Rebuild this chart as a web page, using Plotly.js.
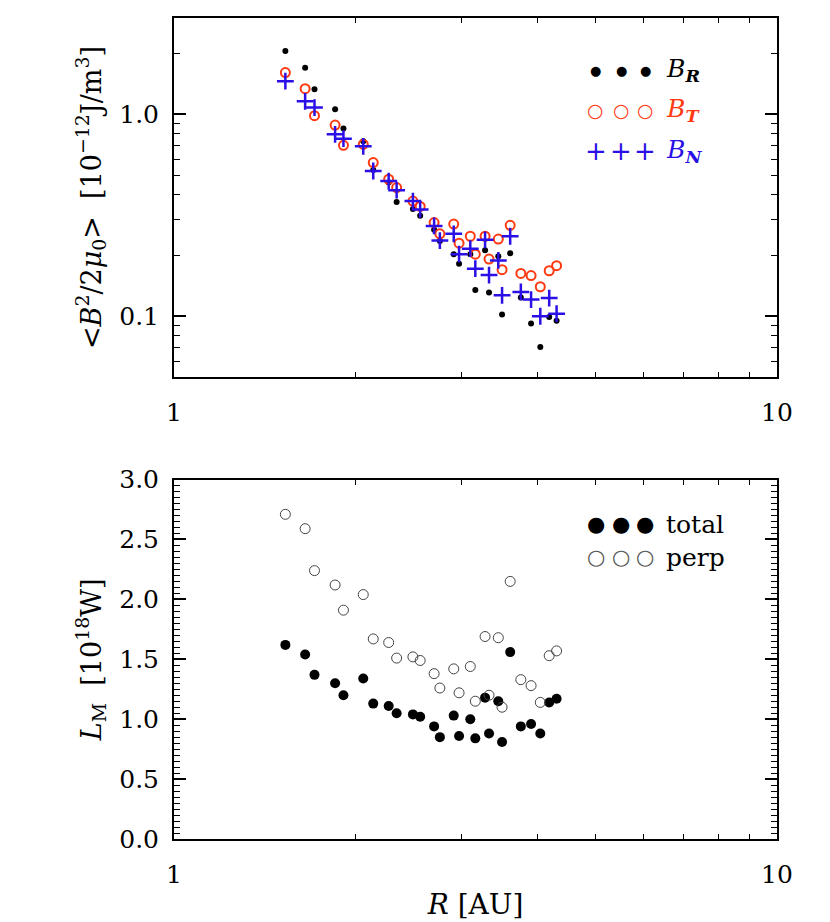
<!DOCTYPE html>
<html>
<head>
<meta charset="utf-8">
<script src="https://cdn.plot.ly/plotly-3.0.1.min.js"></script>
<style>
  body { margin: 0; background: #fff; }
  #plotArea { width: 830px; height: 922px; }
</style>
</head>
<body>
<div id="plotArea"></div>
<script>
// heliocentric distance [AU]
var R = [1.53, 1.65, 1.71, 1.85, 1.91, 2.06, 2.14, 2.27, 2.34, 2.49, 2.56, 2.70, 2.76,
         2.91, 2.97, 3.10, 3.16, 3.28, 3.33, 3.45, 3.50, 3.61, 3.76, 3.91, 4.05, 4.19, 4.31];

// <B^2/2mu0> per component [1e-12 J/m^3]
var bR = [2.06, 1.70, 1.33, 1.06, 0.85, 0.735, 0.53, 0.46, 0.368, 0.340, 0.315, 0.268, 0.236,
          0.203, 0.182, 0.203, 0.135, 0.212, 0.131, 0.198, 0.102, 0.205, 0.124, 0.092, 0.0705, 0.099, 0.095];
var bT = [1.61, 1.34, 0.985, 0.885, 0.702, 0.71, 0.577, 0.477, 0.434, 0.372, 0.350, 0.291, 0.256,
          0.286, 0.230, 0.249, 0.203, 0.249, 0.192, 0.241, 0.170, 0.282, 0.163, 0.159, 0.140, 0.168, 0.178];
var bN = [1.46, 1.16, 1.08, 0.796, 0.758, 0.694, 0.524, 0.467, 0.421, 0.372, 0.338, 0.280, 0.237,
          0.256, 0.203, 0.216, 0.172, 0.239, 0.160, 0.189, 0.127, 0.249, 0.132, 0.121, 0.100, 0.123, 0.103];

// L_M [1e18 W]
var total = [1.62, 1.54, 1.37, 1.30, 1.20, 1.34, 1.13, 1.11, 1.05, 1.04, 1.02, 0.94, 0.85,
             1.03, 0.86, 1.00, 0.84, 1.18, 0.88, 1.15, 0.81, 1.56, 0.94, 0.96, 0.88, 1.14, 1.17];
var perp = [2.71, 2.59, 2.24, 2.12, 1.91, 2.04, 1.67, 1.64, 1.51, 1.52, 1.49, 1.38, 1.26,
            1.42, 1.22, 1.44, 1.15, 1.69, 1.20, 1.68, 1.10, 2.15, 1.33, 1.28, 1.14, 1.53, 1.57];

var RED = "#ff3a12";
var BLUE = "#2a10e6";
var FONT = "DejaVu Serif";

var data = [
  {x: R, y: bR, mode: "markers", type: "scatter", xaxis: "x", yaxis: "y",
   marker: {symbol: "circle", size: 6, color: "#000"}},
  {x: R, y: bT, mode: "markers", type: "scatter", xaxis: "x", yaxis: "y",
   marker: {symbol: "circle-open", size: 9, color: RED, line: {width: 2}}},
  {x: R, y: bN, mode: "markers", type: "scatter", xaxis: "x", yaxis: "y",
   marker: {symbol: "cross-thin-open", size: 12, color: BLUE, line: {width: 2.5, color: BLUE}}},
  {x: R, y: total, mode: "markers", type: "scatter", xaxis: "x2", yaxis: "y2",
   marker: {symbol: "circle", size: 10, color: "#000"}},
  {x: R, y: perp, mode: "markers", type: "scatter", xaxis: "x2", yaxis: "y2",
   marker: {symbol: "circle-open", size: 10, color: "#444", line: {width: 1}}}
];

var xCommon = {
  type: "log", range: [0, 1],
  tickvals: [1, 10], ticktext: ["1", "10"],
  ticks: "inside", ticklen: 12, tickwidth: 1.5, tickcolor: "#000",
  showline: true, linewidth: 2, linecolor: "#000", mirror: "ticks",
  showgrid: false, zeroline: false,
  ticklabelstandoff: 12,
  tickfont: {family: FONT, size: 25, color: "#000"},
  minor: {tickvals: [2, 3, 4, 5, 6, 7, 8, 9], ticks: "inside", ticklen: 5, tickwidth: 1.2, tickcolor: "#000", showgrid: false}
};

var layout = {
  width: 830, height: 922,
  margin: {l: 174, r: 53, t: 18, b: 83},
  paper_bgcolor: "#fff", plot_bgcolor: "#fff",
  showlegend: false,
  font: {family: FONT, color: "#000"},
  xaxis: Object.assign({}, xCommon, {domain: [0, 1], anchor: "y"}),
  xaxis2: Object.assign({}, xCommon, {domain: [0, 1], anchor: "y2",
    title: {text: "<i>R</i> [AU]", font: {family: FONT, size: 28}, standoff: 6}}),
  yaxis: {
    type: "log", domain: [0.5627, 1], anchor: "x",
    range: [Math.log10(0.05), Math.log10(3)],
    tickvals: [0.1, 1], ticktext: ["0.1", "1.0"],
    ticks: "inside", ticklen: 12, tickwidth: 1.5, tickcolor: "#000",
    showline: true, linewidth: 2, linecolor: "#000", mirror: "ticks",
    showgrid: false, zeroline: false, ticklabelstandoff: 8,
    tickfont: {family: FONT, size: 25, color: "#000"},
    minor: {tickvals: [0.06, 0.07, 0.08, 0.09, 0.2, 0.3, 0.4, 0.5, 0.6, 0.7, 0.8, 0.9, 2, 3],
            ticks: "inside", ticklen: 6, tickwidth: 1.2, tickcolor: "#000", showgrid: false},
    title: {text: "&lt;<i>B</i><sup>2</sup>/2<i>μ</i><sub>0</sub>&gt;  [10<sup>−12</sup>J/m<sup>3</sup>]",
            font: {family: FONT, size: 27}, standoff: 10}
  },
  yaxis2: {
    domain: [0, 0.4378], anchor: "x2",
    range: [0, 3],
    tickmode: "linear", tick0: 0, dtick: 0.5, tickformat: ".1f",
    ticks: "inside", ticklen: 12, tickwidth: 1.5, tickcolor: "#000",
    showline: true, linewidth: 2, linecolor: "#000", mirror: "ticks",
    showgrid: false, zeroline: false, ticklabelstandoff: 8,
    tickfont: {family: FONT, size: 25, color: "#000"},
    minor: {dtick: 0.05, ticks: "inside", ticklen: 6, tickwidth: 1.2, tickcolor: "#000", showgrid: false},
    title: {text: "<i>L</i><sub>M</sub>  [10<sup>18</sup>W]", font: {family: FONT, size: 27}, standoff: 10}
  },
  annotations: []
};

// legend drawn as text, three symbols per row like the original
function legendRow(y, glyph, gsize, gcolor, label, lcolor) {
  [0.6998, 0.7413, 0.7811].forEach(function (gx) {
    layout.annotations.push({xref: "paper", yref: "paper", x: gx, y: y, text: glyph,
      showarrow: false, xanchor: "center", yanchor: "middle",
      font: {family: "DejaVu Sans", size: gsize, color: gcolor}});
  });
  layout.annotations.push({xref: "paper", yref: "paper", x: 0.812, y: y, text: label,
    showarrow: false, xanchor: "left", yanchor: "middle",
    font: {family: FONT, size: 25, color: lcolor}});
}
legendRow(0.9363, "●", 13, "#000", "<i>B</i><sub><i><b>R</b></i></sub>", "#000");
legendRow(0.8876, "○", 19, RED, "<i>B</i><sub><i><b>T</b></i></sub>", RED);
legendRow(0.8377, "+", 26, BLUE, "<i>B</i><sub><i><b>N</b></i></sub>", BLUE);
legendRow(0.3833, "●", 21, "#000", "total", "#000");
legendRow(0.3431, "○", 21, "#555", "perp", "#000");

Plotly.newPlot("plotArea", data, layout, {displayModeBar: false});
</script>
</body>
</html>
